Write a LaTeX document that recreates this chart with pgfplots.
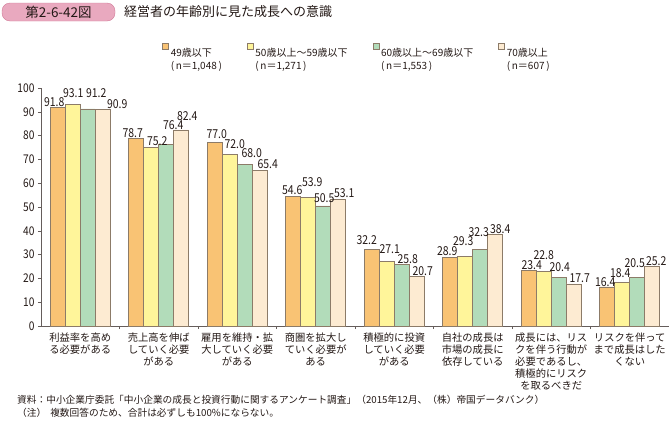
\documentclass[border=0pt]{standalone}
\usepackage{fontspec}
\setmainfont{Noto Sans CJK JP}
\newfontfamily\numfont[FakeStretch=0.85]{Noto Sans CJK JP}
\usepackage{pgfplots}
\usepackage{pgfplotstable}
\pgfplotsset{compat=1.18}
\definecolor{cA}{HTML}{F9C374}
\definecolor{cB}{HTML}{FFF59A}
\definecolor{cC}{HTML}{B2DCBA}
\definecolor{cD}{HTML}{FDEBD2}
\definecolor{edge}{HTML}{8C7B68}
\definecolor{txt}{HTML}{231815}
\definecolor{pinkfill}{HTML}{E9A9BF}
\definecolor{pinkedge}{HTML}{D27A98}
% values and label offsets (dx, dy in pt) for each series
\pgfplotstableread{
x a ax ay b bx by c cx cy d dx dy
0.5 91.8 -3.5 0 93.1 0.5 5 91.2 8.5 10 90.9 14.5 0
1.5 78.7 -3.5 0 75.2 6 0 76.4 7 13 82.4 6 8
2.5 77.0 2 3 72.0 5 5 68.0 7 5 65.4 8 0
3.5 54.6 -1 0 53.9 4 10 50.5 1 1.5 53.1 6 1
4.5 32.2 -5 3.5 27.1 3 6.5 25.8 6 0 20.7 6 0
5.5 28.9 -3 0 29.3 -2 9.5 32.3 -1.5 11.5 38.4 5 0
6.5 23.4 3 -1 22.8 0 11 20.4 1 4 17.7 6 0
7.5 16.4 -2 -0.5 18.4 -2 3.5 20.5 -2.5 8.5 25.2 4 -1
}\datatable
\begin{document}
\begin{tikzpicture}[x=1pt,y=1pt]
\useasboundingbox (0,0) rectangle (670,-421);
\node[draw=pinkedge, fill=pinkfill, rounded corners=8pt, minimum width=113pt, minimum height=18pt, inner sep=0pt, text=txt, font=\fontsize{13.5}{15}\selectfont] at (58.5,-12) {第2-6-42図};
\node[anchor=west, inner sep=0pt, text=txt, font=\fontsize{13}{15}\selectfont] at (124,-12) {経営者の年齢別に見た成長への意識};
\begin{axis}[
  at={(41pt,-326pt)}, anchor=south west,
  scale only axis, width=628pt, height=238pt,
  xmin=0, xmax=8, ymin=0, ymax=100,
  axis x line=bottom, axis y line=left,
  axis line style={-, color=txt!70, line width=0.6pt},
  ybar=0pt, bar width=15pt,
  xtick={0.5,1.5,...,7.5},
  xticklabels={{利益率を高め\\る必要がある},{売上高を伸ば\\していく必要\\がある},{雇用を維持・拡\\大していく必要\\がある},{商圏を拡大し\\ていく必要が\\ある},{積極的に投資\\していく必要\\がある},{自社の成長は\\市場の成長に\\依存している},{成長には、リス\\クを伴う行動が\\必要であるし、\\積極的にリスク\\を取るべきだ},{リスクを伴って\\まで成長はした\\くない}},
  major x tick style={draw=none},
  minor xtick={1,2,...,7},
  minor x tick style={color=txt!70, line width=0.5pt},
  minor tick length=3pt,
  xticklabel style={align=center, font=\fontsize{10.3}{12.2}\selectfont, text=txt},
  ytick={0,10,...,100},
  y tick style={color=txt!70, line width=0.5pt},
  major tick length=3pt,
  tick align=outside,
  yticklabel style={font=\numfont\fontsize{12}{13}\selectfont, text=txt},
  /pgf/number format/assume math mode=true,
  nodes near coords={\pgfmathprintnumber[fixed,fixed zerofill,precision=1]{\pgfplotspointmeta}},
  every node near coord/.append style={font=\numfont\fontsize{12.3}{13}\selectfont, text=txt, inner sep=1pt, /pgf/number format/assume math mode=true},
  legend style={at={(axis description cs:0.188,1.2)}, anchor=north west, draw=none, fill=none, legend columns=4, cells={align=left, anchor=north west}, font=\fontsize{10}{13}\selectfont, text=txt, /tikz/every even column/.append style={column sep=23pt}},
  legend image code/.code={\draw[#1, line width=0.5pt] (0pt,-3pt) rectangle (6pt,3pt);},
]
\addplot[fill=cA, draw=edge, line width=0.6pt,
  visualization depends on={\thisrow{ax}\as\myx},
  visualization depends on={\thisrow{ay}\as\myy},
  every node near coord/.append style={xshift=\myx pt, yshift=\myy pt}] table[x=x,y=a]{\datatable};
\addlegendentry{49歳以下\\(\,n＝1,048\,)}
\addplot[fill=cB, draw=edge, line width=0.6pt,
  visualization depends on={\thisrow{bx}\as\myx},
  visualization depends on={\thisrow{by}\as\myy},
  every node near coord/.append style={xshift=\myx pt, yshift=\myy pt}] table[x=x,y=b]{\datatable};
\addlegendentry{50歳以上～59歳以下\\(\,n＝1,271\,)}
\addplot[fill=cC, draw=edge, line width=0.6pt,
  visualization depends on={\thisrow{cx}\as\myx},
  visualization depends on={\thisrow{cy}\as\myy},
  every node near coord/.append style={xshift=\myx pt, yshift=\myy pt}] table[x=x,y=c]{\datatable};
\addlegendentry{60歳以上～69歳以下\\(\,n＝1,553\,)}
\addplot[fill=cD, draw=edge, line width=0.6pt,
  visualization depends on={\thisrow{dx}\as\myx},
  visualization depends on={\thisrow{dy}\as\myy},
  every node near coord/.append style={xshift=\myx pt, yshift=\myy pt}] table[x=x,y=d]{\datatable};
\addlegendentry{70歳以上\\(\,n＝607\,)}
\node[text=txt, font=\fontsize{10}{12}\selectfont] at (axis description cs:-0.018,1.067) {（\%）};
\end{axis}
\node[anchor=base west, inner sep=0pt, text=txt, font=\fontsize{9.7}{12}\selectfont] at (17,-403) {資料：中小企業庁委託「中小企業の成長と投資行動に関するアンケート調査」（2015年12月、（株）帝国データバンク）};
\node[anchor=base west, inner sep=0pt, text=txt, font=\fontsize{9.7}{12}\selectfont] at (17,-416) {（注）\hspace{4pt}複数回答のため、合計は必ずしも100\%にならない。};
\end{tikzpicture}
\end{document}
